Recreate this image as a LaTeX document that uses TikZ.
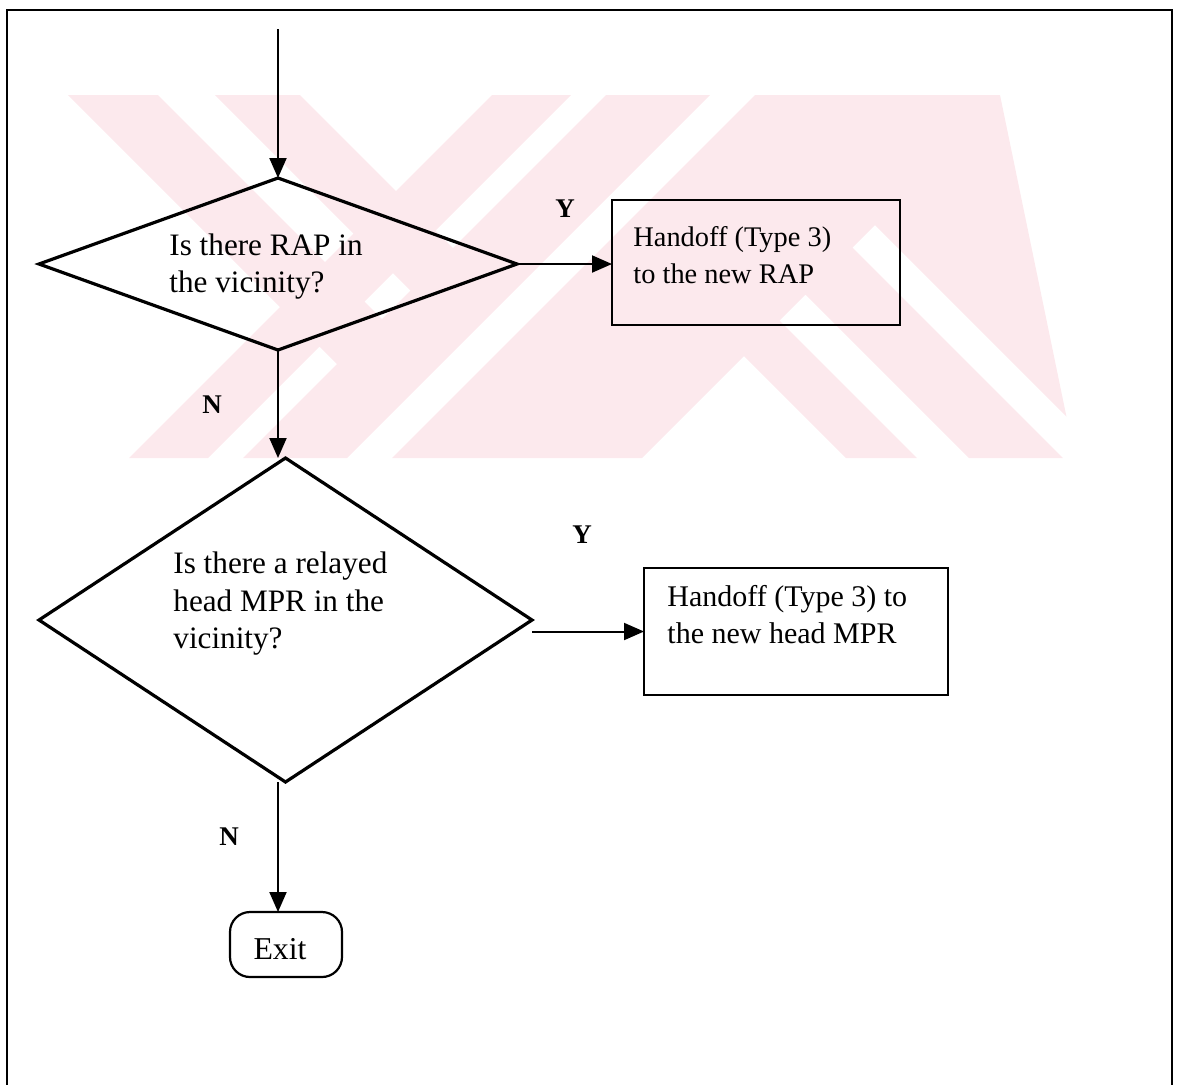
\documentclass[tikz,border=0pt]{standalone}
\usepackage{fontspec}
\setmainfont{Liberation Serif}
\usetikzlibrary{shapes.geometric,arrows.meta,calc}

\definecolor{wmpink}{RGB}{252,233,237}

\tikzset{
  px/.style={x=0.5pt,y=-0.5pt},
  decision/.style={draw,line width=1.6pt,diamond,inner sep=0pt,outer sep=0pt},
  procbox/.style={draw,line width=1.1pt,rectangle,inner sep=0pt,outer sep=0pt},
  termbox/.style={draw,line width=1.1pt,rectangle,rounded corners=10pt,inner sep=0pt,
    outer sep=0pt,minimum width=56pt,minimum height=32.5pt},
  flow/.style={line width=1pt,-{Triangle[length=10pt,width=8.5pt]}},
  lbl/.style={font=\fontsize{13.5}{16}\selectfont\bfseries,inner sep=0pt,anchor=base},
  txt/.style={inner sep=0pt,align=left,anchor=north west},
  % emblem bands, given by their x range on the top edge
  bandR/.style args={#1/#2}{insert path={(#1,95) -- (#2,95) -- (#2+363,458) -- (#1+363,458) -- cycle}},
  bandL/.style args={#1/#2}{insert path={(#1,95) -- (#2,95) -- (#2-363,458) -- (#1-363,458) -- cycle}},
}

\begin{document}
\begin{tikzpicture}[px]
\useasboundingbox (0,0) rectangle (1177,1084);

% faint background emblem: two groups of diagonal bands split by a slanted gap
\begin{scope}
  \clip (0,95) -- (710,95) -- (347,458) -- (0,458) -- cycle;
  \fill[wmpink] [bandR=68/158] [bandR=215/300] [bandL=492/571] [bandL=606/710];
\end{scope}
\begin{scope}
  \clip (755,95) -- (1000,95) -- (1075,458) -- (392,458) -- cycle;
  \fill[wmpink] [bandL=755/1005] [bandR=483/554] [bandR=606/700] [bandR=745/1100];
\end{scope}

% page frame
\draw[line width=1.2pt] (7,1090) -- (7,10) -- (1172,10) -- (1172,1090);

% decisions
\node[decision,minimum width=239pt,minimum height=86pt] (d1) at (278,264) {};
\node[decision,minimum width=246.5pt,minimum height=162pt] (d2) at (285.5,620) {};
\node[txt,font=\fontsize{15.6}{18.5}\selectfont] (d1txt) at (169,233.6)
  {Is there RAP in\\the vicinity?};
\node[txt,font=\fontsize{15.6}{18.75}\selectfont] (d2txt) at (173,551.6)
  {Is there a relayed\\head MPR in the\\vicinity?};

% actions
\node[procbox,minimum width=144pt,minimum height=62.5pt] (b1) at (756,262.5) {};
\node[procbox,minimum width=152pt,minimum height=63.5pt] (b2) at (796,631.5) {};
\node[txt,font=\fontsize{14.2}{18.5}\selectfont] (b1txt) at (633,226.3)
  {Handoff (Type 3)\\to the new RAP};
\node[txt,font=\fontsize{15}{18.5}\selectfont] (b2txt) at (667,585.2)
  {Handoff (Type 3) to\\the new head MPR};

% terminal
\node[termbox] (ex) at (286,944.5) {};
\node[font=\fontsize{15.9}{18.5}\selectfont,inner sep=0pt,anchor=base] (extxt) at (280,959) {Exit};

% branch labels
\node[lbl] (y1) at (565,217) {Y};
\node[lbl] (n1) at (212,413) {N};
\node[lbl] (y2) at (582,543) {Y};
\node[lbl] (n2) at (229,845) {N};

% connectors
\coordinate (start) at (278,29);
\draw[flow] (start) -- (d1.north);
\draw[flow] (d1.east) -- (d1.east -| b1.west);
\draw[flow] (d1.south) -- (d1.south |- d2.north);
\draw[flow] (d2.east |- b2.west) -- (b2.west);
\draw[flow] (d1.south |- d2.south) -- (d1.south |- ex.north);

\end{tikzpicture}
\end{document}
